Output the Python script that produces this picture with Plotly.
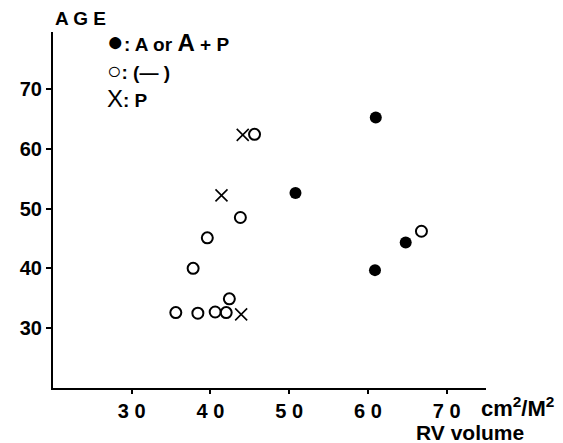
import plotly.graph_objects as go

# RV volume (cm2/M2) vs age
rv_filled = [61.0, 50.8, 64.8, 60.9]
age_filled = [65.2, 52.6, 44.3, 39.7]

rv_open = [45.6, 43.8, 39.6, 37.8, 66.8, 42.4, 35.6, 38.4, 40.6, 42.0]
age_open = [62.4, 48.5, 45.1, 40.0, 46.2, 34.9, 32.6, 32.5, 32.7, 32.6]

rv_p = [44.1, 41.4, 43.9]
age_p = [62.3, 52.2, 32.3]

x_ticks = [30, 40, 50, 60, 70]
x_ticktext = ["3 0", "4 0", "5 0", "6 0", "7 0"]
y_ticks = [30, 40, 50, 60, 70]
y_ticktext = ["30", "40", "50", "60", "70"]

FONT = "Liberation Sans"

fig = go.Figure()

fig.add_trace(go.Scatter(
    x=rv_filled, y=age_filled, mode="markers",
    marker=dict(symbol="circle", size=12, color="black"),
    showlegend=False, hoverinfo="x+y"
))
fig.add_trace(go.Scatter(
    x=rv_open, y=age_open, mode="markers",
    marker=dict(symbol="circle-open", size=11, color="black", line=dict(width=2)),
    showlegend=False, hoverinfo="x+y"
))
fig.add_trace(go.Scatter(
    x=rv_p, y=age_p, mode="markers",
    marker=dict(symbol="x-thin-open", size=12, color="black", line=dict(width=1.6, color="black")),
    showlegend=False, hoverinfo="x+y"
))

# page body adds an 8px offset, so margins are shifted to compensate
fig.update_layout(
    width=563, height=443,
    margin=dict(l=38, r=85, t=24, b=63),
    plot_bgcolor="white", paper_bgcolor="white",
    font=dict(family=FONT, color="black"),
    xaxis=dict(
        range=[20, 75], showgrid=False, zeroline=False,
        showline=True, linecolor="black", linewidth=2,
        ticks="outside", ticklen=4, tickwidth=2, tickcolor="black",
        tickvals=x_ticks, ticktext=x_ticktext,
        tickfont=dict(family=FONT, size=20, weight="bold"),
    ),
    yaxis=dict(
        range=[20, 79.5], showgrid=False, zeroline=False,
        showline=True, linecolor="black", linewidth=2,
        ticks="outside", ticklen=5, tickwidth=2, tickcolor="black",
        tickvals=y_ticks, ticktext=y_ticktext,
        tickfont=dict(family=FONT, size=20, weight="bold"),
    ),
    showlegend=False,
)

# axis titles
fig.add_annotation(xref="paper", yref="paper", x=0.0, y=1.0, yshift=14,
                   xanchor="left", yanchor="middle", showarrow=False,
                   text="A G E", font=dict(size=19, weight="bold"))
fig.add_annotation(xref="paper", yref="paper", x=1.0, y=0, yshift=-19,
                   xanchor="center", yanchor="middle", xshift=31, showarrow=False,
                   text="cm<sup>2</sup>/M<sup>2</sup>", font=dict(size=22, weight="bold"))
fig.add_annotation(xref="paper", yref="paper", x=1.0, y=0, yshift=-44,
                   xanchor="center", yanchor="middle", xshift=-16, showarrow=False,
                   text="RV volume", font=dict(size=21, weight="bold"))

# key
key = [
    ("<span style='font-size:28px'>●</span>: A or <span style='font-size:24px'>A</span> + P", 41),
    ("<span style='font-size:24px;font-weight:normal'>○</span>: (— )", 70),
    ("<span style='font-weight:normal;font-size:24px'>X</span>: P", 98),
]
for txt, ypix in key:
    fig.add_annotation(xref="paper", yref="paper",
                       x=(99 - 46) / 440, y=(443 - 55 - ypix) / 356,
                       xanchor="left", yanchor="middle", showarrow=False,
                       text=txt, font=dict(size=19, weight="bold"))

fig.write_html("out.html")
